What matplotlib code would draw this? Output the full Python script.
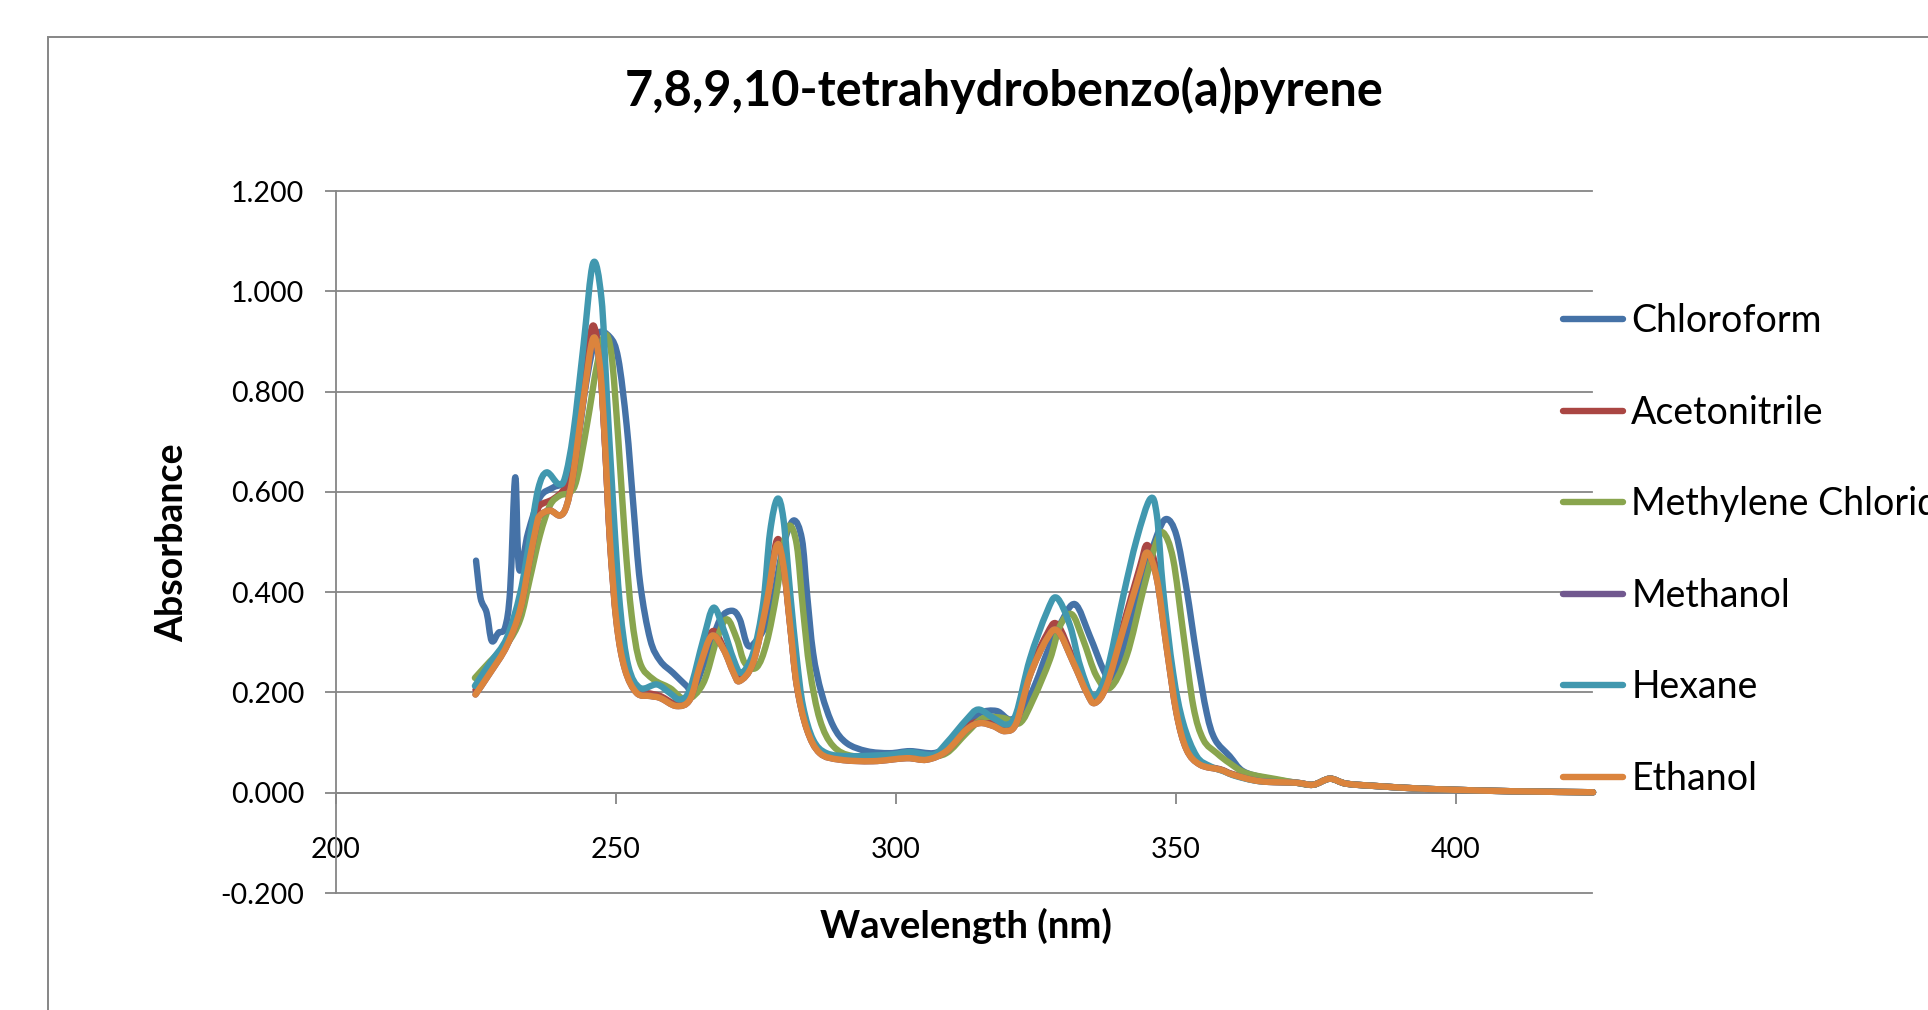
import matplotlib
matplotlib.use("Agg")
import matplotlib.pyplot as plt
from matplotlib.patches import Rectangle, PathPatch
from matplotlib.path import Path
from matplotlib.lines import Line2D

plt.rcParams["font.family"] = ["Lato", "DejaVu Sans"]
plt.rcParams["axes.unicode_minus"] = False

# common weak tail above ~370 nm
tail_wl = [371.5, 374.5, 377.5, 380.5, 386.4, 392.4, 399.5, 410.2, 424.5]
tail_abs = [0.020, 0.016, 0.028, 0.018, 0.013, 0.009, 0.006, 0.003, 0.001]

chloroform_wl = [225.0, 225.8, 226.9, 227.8, 229.0, 230.2, 231.1, 232.0, 232.7, 234.3,
                 236.4, 238.8, 240.9, 243.0, 244.8, 246.6, 248.9, 250.4, 251.9, 253.1,
                 254.3, 256.1, 257.9, 260.2, 262.6, 263.8, 266.2, 268.6, 270.7, 272.1,
                 273.6, 275.5, 277.0, 278.1, 279.9, 281.7, 283.2, 284.1, 285.2, 286.7,
                 288.8, 291.2, 294.8, 298.9, 302.5, 306.7, 309.0, 312.6, 315.0, 318.0,
                 320.4, 322.7, 325.0, 327.0, 329.5, 332.0, 334.6, 337.0, 338.2, 339.5,
                 341.2, 344.2, 346.6, 348.3, 350.1, 351.9, 353.7, 355.5, 357.0, 359.6,
                 362.0, 366.2]
chloroform_abs = [0.463, 0.389, 0.359, 0.303, 0.319, 0.330, 0.406, 0.629, 0.446, 0.519,
                  0.589, 0.609, 0.623, 0.693, 0.826, 0.913, 0.909, 0.866, 0.733, 0.573,
                  0.419, 0.306, 0.263, 0.239, 0.213, 0.203, 0.273, 0.346, 0.363, 0.346,
                  0.293, 0.310, 0.340, 0.386, 0.493, 0.543, 0.506, 0.399, 0.279, 0.199,
                  0.133, 0.099, 0.083, 0.079, 0.083, 0.079, 0.093, 0.133, 0.159, 0.163,
                  0.146, 0.166, 0.220, 0.280, 0.340, 0.376, 0.313, 0.246, 0.228, 0.250,
                  0.313, 0.426, 0.513, 0.546, 0.513, 0.406, 0.273, 0.159, 0.106, 0.073,
                  0.043, 0.029]

acetonitrile_wl = [224.9, 227.5, 230.5, 232.9, 234.6, 235.8, 236.4, 238.8, 240.9, 242.4,
                   244.2, 245.8, 247.1, 248.0, 248.9, 250.1, 251.6, 253.7, 256.1, 257.9,
                   260.8, 263.2, 265.0, 267.2, 269.2, 271.0, 272.1, 274.5, 276.9, 278.7,
                   279.9, 281.1, 282.3, 284.1, 286.4, 290.0, 295.9, 301.9, 305.5, 309.0,
                   312.6, 315.0, 317.4, 319.5, 321.5, 323.9, 326.9, 328.8, 331.7, 334.1,
                   335.5, 337.6, 340.6, 343.6, 344.9, 346.6, 348.3, 350.1, 351.9, 354.3,
                   357.9, 360.2, 365.0]
acetonitrile_abs = [0.205, 0.245, 0.300, 0.375, 0.480, 0.550, 0.573, 0.586, 0.609, 0.660,
                    0.810, 0.931, 0.860, 0.700, 0.510, 0.345, 0.250, 0.205, 0.198, 0.193,
                    0.177, 0.190, 0.258, 0.322, 0.290, 0.243, 0.228, 0.265, 0.385, 0.503,
                    0.460, 0.336, 0.215, 0.128, 0.080, 0.067, 0.064, 0.070, 0.067, 0.085,
                    0.130, 0.143, 0.137, 0.127, 0.142, 0.240, 0.315, 0.336, 0.265, 0.203,
                    0.183, 0.218, 0.335, 0.452, 0.494, 0.440, 0.300, 0.162, 0.088, 0.057,
                    0.047, 0.037, 0.024]

methylene_wl = [224.8, 227.5, 230.5, 232.9, 234.6, 236.4, 238.2, 240.0, 241.8, 243.0,
                244.8, 246.6, 248.0, 249.2, 250.4, 251.6, 252.8, 254.3, 256.7, 259.6,
                262.6, 265.6, 268.0, 269.8, 271.6, 273.0, 275.1, 276.9, 278.7, 279.9,
                281.0, 282.3, 283.4, 284.6, 286.4, 288.8, 292.4, 298.9, 305.5, 309.0,
                312.6, 315.6, 319.2, 322.1, 324.5, 327.5, 329.3, 331.4, 333.4, 335.8,
                338.2, 341.2, 344.2, 346.3, 347.7, 349.5, 351.3, 353.1, 354.9, 357.3,
                359.6, 362.6, 368.0]
methylene_abs = [0.229, 0.262, 0.296, 0.346, 0.426, 0.513, 0.573, 0.593, 0.599, 0.626,
                 0.733, 0.853, 0.913, 0.873, 0.706, 0.506, 0.353, 0.259, 0.226, 0.209,
                 0.186, 0.219, 0.306, 0.346, 0.306, 0.259, 0.250, 0.299, 0.399, 0.493,
                 0.533, 0.493, 0.366, 0.246, 0.146, 0.093, 0.073, 0.074, 0.073, 0.079,
                 0.119, 0.149, 0.149, 0.139, 0.186, 0.266, 0.333, 0.356, 0.306, 0.233,
                 0.209, 0.273, 0.406, 0.493, 0.519, 0.466, 0.319, 0.173, 0.106, 0.079,
                 0.059, 0.039, 0.027]

ethanol_wl = [224.9, 227.5, 230.5, 232.9, 234.6, 235.8, 236.4, 238.2, 240.0, 241.2,
              242.4, 244.2, 245.9, 247.1, 248.0, 248.9, 250.1, 251.6, 253.7, 256.1,
              257.9, 260.8, 263.2, 265.0, 267.1, 269.2, 271.0, 272.1, 274.5, 276.9,
              278.7, 279.9, 281.1, 282.3, 284.1, 286.4, 290.0, 295.9, 301.9, 305.5,
              309.0, 312.6, 315.0, 317.4, 319.5, 321.5, 323.9, 326.9, 328.9, 331.7,
              334.1, 335.5, 337.6, 340.6, 343.6, 344.9, 346.6, 348.3, 350.1, 351.9,
              354.3, 357.9, 360.2, 365.0]
ethanol_abs = [0.196, 0.239, 0.293, 0.366, 0.466, 0.533, 0.553, 0.563, 0.553, 0.573,
               0.639, 0.786, 0.906, 0.853, 0.703, 0.506, 0.339, 0.246, 0.199, 0.193,
               0.189, 0.173, 0.186, 0.253, 0.313, 0.286, 0.239, 0.223, 0.260, 0.379,
               0.493, 0.453, 0.333, 0.213, 0.126, 0.079, 0.066, 0.063, 0.069, 0.066,
               0.083, 0.126, 0.139, 0.133, 0.123, 0.139, 0.233, 0.306, 0.323, 0.259,
               0.199, 0.179, 0.213, 0.326, 0.439, 0.479, 0.426, 0.293, 0.159, 0.086,
               0.056, 0.046, 0.036, 0.023]

# methanol lies underneath ethanol over the whole range
methanol_wl = list(ethanol_wl)
methanol_abs = list(ethanol_abs)

hexane_wl = [224.8, 227.5, 230.5, 232.9, 234.6, 236.1, 237.6, 239.7, 240.9, 242.4,
             244.2, 245.9, 247.4, 248.3, 249.5, 250.7, 252.2, 254.3, 257.3, 259.6,
             261.4, 263.2, 265.6, 267.4, 269.2, 271.0, 272.4, 274.5, 276.3, 277.5,
             278.8, 279.9, 281.1, 282.3, 283.4, 285.2, 287.6, 291.8, 298.9, 302.5,
             306.7, 309.0, 312.6, 314.7, 317.4, 319.8, 321.5, 323.9, 326.9, 328.7,
             331.1, 332.9, 335.2, 337.6, 340.6, 343.0, 345.4, 346.6, 347.7, 349.5,
             351.3, 353.7, 356.1, 358.5, 360.8, 365.0]
hexane_abs = [0.213, 0.259, 0.309, 0.399, 0.506, 0.606, 0.639, 0.616, 0.629, 0.719,
              0.893, 1.056, 0.986, 0.806, 0.573, 0.373, 0.253, 0.209, 0.216, 0.199,
              0.186, 0.206, 0.306, 0.369, 0.326, 0.266, 0.239, 0.279, 0.379, 0.519,
              0.586, 0.546, 0.399, 0.266, 0.173, 0.106, 0.079, 0.073, 0.076, 0.081,
              0.076, 0.099, 0.146, 0.166, 0.149, 0.136, 0.159, 0.266, 0.359, 0.389,
              0.333, 0.253, 0.193, 0.239, 0.393, 0.506, 0.586, 0.553, 0.406, 0.239,
              0.139, 0.073, 0.053, 0.043, 0.033, 0.023]

series_names = ["Chloroform", "Acetonitrile", "Methylene Chloride", "Methanol", "Hexane", "Ethanol"]
series_wl = [chloroform_wl, acetonitrile_wl, methylene_wl, methanol_wl, hexane_wl, ethanol_wl]
series_abs = [chloroform_abs, acetonitrile_abs, methylene_abs, methanol_abs, hexane_abs, ethanol_abs]
colors = ["#4572A7", "#AA4643", "#89A54E", "#71588F", "#4198AF", "#DB843D"]

x_ticks = [200, 250, 300, 350, 400]
y_ticks = [-0.2, 0.0, 0.2, 0.4, 0.6, 0.8, 1.0, 1.2]

grey = "#868686"
lw = 4.6


def smooth_path(xs, ys):
    # Excel-style smoothed line: Catmull-Rom segments as cubic Beziers
    pts = list(zip(xs, ys))
    n = len(pts)
    verts = [pts[0]]
    codes = [Path.MOVETO]
    for i in range(n - 1):
        p0 = pts[i - 1] if i > 0 else pts[i]
        p1 = pts[i]
        p2 = pts[i + 1]
        p3 = pts[i + 2] if i + 2 < n else pts[i + 1]
        c1 = (p1[0] + (p2[0] - p0[0]) / 6, p1[1] + (p2[1] - p0[1]) / 6)
        c2 = (p2[0] - (p3[0] - p1[0]) / 6, p2[1] - (p3[1] - p1[1]) / 6)
        verts += [c1, c2, p2]
        codes += [Path.CURVE4] * 3
    return Path(verts, codes)


fig = plt.figure(figsize=(19.28, 10.10), dpi=100)
ax = fig.add_axes([0.1743, 0.1158, 0.6514, 0.695])

handles = []
for name, wl, ab, c in zip(series_names, series_wl, series_abs, colors):
    patch = PathPatch(smooth_path(wl + tail_wl, ab + tail_abs), facecolor="none",
                      edgecolor=c, linewidth=lw, capstyle="round", joinstyle="round",
                      clip_on=False, zorder=3)
    ax.add_patch(patch)
    handles.append(Line2D([], [], color=c, linewidth=lw, solid_capstyle="round", label=name))

ax.set_xlim(200, 424.3)
ax.set_ylim(-0.2, 1.2)
ax.set_xticks(x_ticks)
ax.set_yticks(y_ticks)
ax.set_yticklabels([f"{v:.3f}" for v in y_ticks])

ax.spines["top"].set_visible(False)
ax.spines["right"].set_visible(False)
ax.spines["bottom"].set_position(("data", 0))
for s in ("left", "bottom"):
    ax.spines[s].set_color(grey)
    ax.spines[s].set_linewidth(1.3)

ax.grid(axis="y", color=grey, linewidth=1.3)
for gl in ax.get_ygridlines():
    gl.set_clip_on(False)
ax.set_axisbelow(True)

ax.tick_params(axis="x", direction="out", length=7.7, width=1.3, color=grey,
               labelsize=20.5, pad=24)
ax.tick_params(axis="y", direction="out", length=7.9, width=1.3, color=grey,
               labelsize=20.5, pad=15)

fig.text(172 / 1928, 1 - 543 / 1010, "Absorbance", rotation=90, fontsize=27,
         fontweight="bold", ha="center", va="center")
fig.text(966 / 1928, 1 - 926 / 1010, "Wavelength (nm)", fontsize=27.5,
         fontweight="bold", ha="center", va="center")
fig.text(1004 / 1928, 1 - 90 / 1010, "7,8,9,10-tetrahydrobenzo(a)pyrene",
         fontsize=35, fontweight="bold", ha="center", va="center")

ax.legend(handles=handles, loc="upper left", bbox_to_anchor=(1563 / 1928, 1 - 303.5 / 1010),
          bbox_transform=fig.transFigure, frameon=False, fontsize=27,
          handlelength=1.6, handletextpad=0.22, labelspacing=1.48,
          borderpad=0, borderaxespad=0)

# outer chart border (runs off the right and bottom edges)
fig.patches.append(Rectangle((48 / 1928, -0.1), 1.1, 1 - 37 / 1010 + 0.1,
                             transform=fig.transFigure, fill=False,
                             edgecolor=grey, linewidth=1.4))

fig.savefig("out.png", dpi=100)
